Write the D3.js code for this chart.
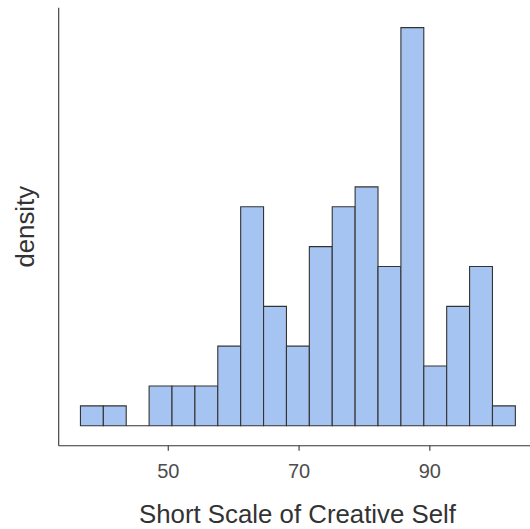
<!DOCTYPE html>
<html>
<head>
<meta charset="utf-8">
<script src="https://cdn.jsdelivr.net/npm/d3@7"></script>
<style>
  html, body { margin: 0; padding: 0; background: #fff; }
  svg { display: block; }
</style>
</head>
<body>
<svg id="chart" width="530" height="529"></svg>
<script>
// Histogram bins of the Short Scale of Creative Self (bin width 3.5)
const binStart = 36.65;
const binWidth = 3.5;
const binCounts = [1, 1, 0, 2, 2, 2, 4, 11, 6, 4, 9, 11, 12, 8, 20, 3, 6, 8, 1];
const xTicks = [50, 70, 90];
const xTitle = "Short Scale of Creative Self";
const yTitle = "density";

const total = d3.sum(binCounts);
const bins = binCounts.map((c, i) => ({
  x0: binStart + i * binWidth,
  x1: binStart + (i + 1) * binWidth,
  density: c / (total * binWidth)
}));

const svg = d3.select("#chart");
const W = 530;
const panel = { left: 58.7, top: 7.7, bottom: 445.7 };

// 5% expansion on both axes
const xLo = binStart, xHi = binStart + binCounts.length * binWidth;
const xPad = (xHi - xLo) * 0.05;
const x = d3.scaleLinear()
  .domain([xLo - xPad, xHi + xPad])
  .range([panel.left, panel.left + (xHi - xLo + 2 * xPad) * 6.54]);

const yMax = d3.max(bins, d => d.density);
const y = d3.scaleLinear()
  .domain([-yMax * 0.05, yMax * 1.05])
  .range([panel.bottom, panel.top]);

// bars as closed paths so empty bins still show their outline on the baseline
svg.append("g")
  .selectAll("path")
  .data(bins)
  .join("path")
  .attr("d", d => {
    const l = x(d.x0), r = x(d.x1), t = y(d.density), b = y(0);
    return `M${l},${b}L${l},${t}L${r},${t}L${r},${b}Z`;
  })
  .attr("fill", "#a6c4f1")
  .attr("stroke", "#333333")
  .attr("stroke-width", 1.1);

// x axis
const xAxis = svg.append("g")
  .attr("transform", `translate(0,${panel.bottom})`)
  .call(d3.axisBottom(x).tickValues(xTicks).tickSize(5).tickPadding(6).tickSizeOuter(0));
xAxis.select(".domain").remove();
xAxis.append("line")
  .attr("x1", panel.left).attr("x2", W)
  .attr("y1", 0).attr("y2", 0)
  .attr("stroke", "#333333").attr("stroke-width", 1.1);
xAxis.selectAll(".tick line").attr("stroke", "#333333").attr("stroke-width", 1.1);
xAxis.selectAll(".tick text")
  .attr("fill", "#4d4d4d")
  .attr("dy", null)
  .attr("y", 32.5)
  .style("font-family", "Liberation Sans, Arial, sans-serif")
  .style("font-size", "20px");

// y axis line (no ticks)
svg.append("line")
  .attr("x1", panel.left).attr("x2", panel.left)
  .attr("y1", panel.top).attr("y2", panel.bottom)
  .attr("stroke", "#333333").attr("stroke-width", 1.1);

// axis titles
svg.append("text")
  .attr("x", 297.5)
  .attr("y", 523)
  .attr("text-anchor", "middle")
  .attr("fill", "#333333")
  .style("font-family", "Liberation Sans, Arial, sans-serif")
  .style("font-size", "25.8px")
  .text(xTitle);

svg.append("text")
  .attr("transform", `translate(34,${(panel.top + panel.bottom) / 2}) rotate(-90)`)
  .attr("text-anchor", "middle")
  .attr("fill", "#333333")
  .style("font-family", "Liberation Sans, Arial, sans-serif")
  .style("font-size", "25.8px")
  .text(yTitle);
</script>
</body>
</html>
